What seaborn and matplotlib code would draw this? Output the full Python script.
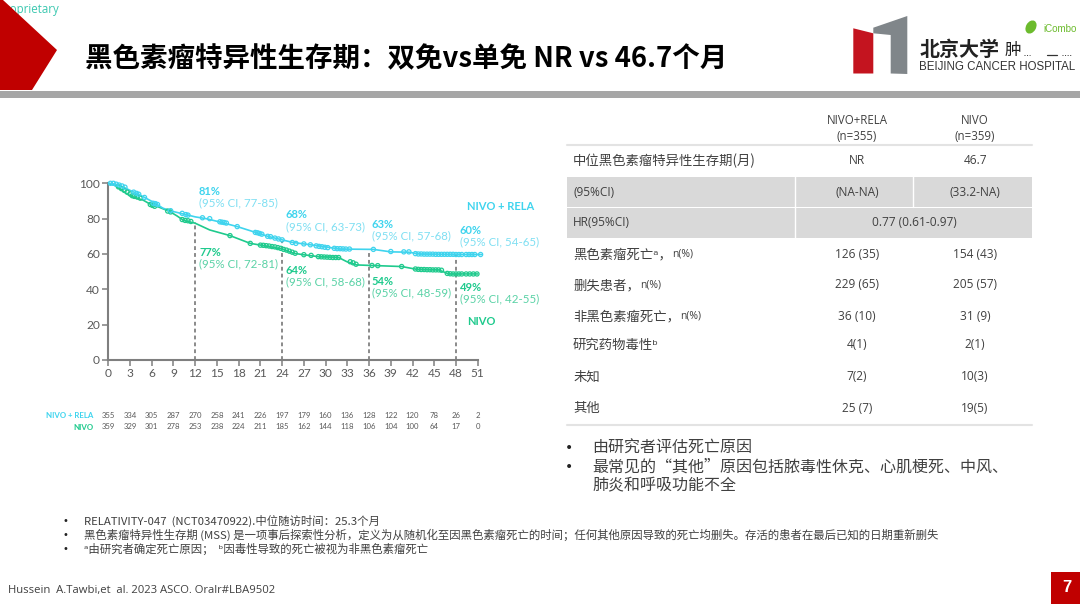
import matplotlib
matplotlib.use("Agg")
import matplotlib.pyplot as plt
import pandas as pd
import seaborn as sns
from matplotlib.patches import Polygon, Rectangle, Ellipse

# curves
rela_t = [0, 1, 2, 3, 3.9, 5, 6.5, 7.5, 8.5, 10, 12, 13.5, 15.5, 17.8, 20.5, 22, 24, 25.5, 27, 29, 32, 34, 36.6, 39, 41.5, 43, 46, 48, 51.5]
rela_s = [100, 99.5, 98, 96, 94.3, 92, 88.7, 86, 84.5, 83, 81, 80, 78, 75.5, 72, 70, 68, 66.5, 65.7, 64.6, 62.8, 62.7, 62.6, 61.2, 61, 60, 59.8, 59.7, 59.7]
nivo_t = [0, 0.8, 1.6, 2.4, 3.2, 4.8, 6, 7, 8.5, 9.5, 10.4, 12, 14, 16.8, 19.6, 21.5, 24, 25.6, 26.9, 29, 31.8, 32.9, 34.3, 37, 40.5, 42.6, 45.6, 47, 51]
nivo_s = [100, 99, 97, 94.5, 92.5, 90.5, 87.7, 86.5, 84, 81.5, 79, 77.4, 73.6, 70.4, 66, 64.7, 62.8, 60.4, 59.6, 58.5, 58, 55.7, 53.8, 53.4, 52.9, 51.3, 51, 48.7, 48.7]

# censor marks
rela_cens_t = [0.3, 0.7, 1.1, 1.5, 1.9, 2.3, 3.5, 3.9, 4.2, 5.0, 6.2, 6.5, 6.8, 8.6, 10.2, 10.7, 11.0, 13.0, 14.0, 15.4, 15.7, 16.0, 16.3, 17.8, 20.3, 20.6, 20.9, 21.2, 22.0, 22.4, 23.0, 23.5, 24.0, 25.4, 25.9, 27.0, 27.9, 28.7, 29.1, 29.5, 29.9, 30.3, 31.2, 31.6, 32.0, 32.4, 32.8, 33.3, 36.6, 39.0, 40.8, 41.5, 42.4, 42.8, 43.2, 43.6, 44.0, 44.4, 44.8, 45.2, 45.6, 46.0, 46.4, 46.8, 47.2, 47.6, 48.0, 48.4, 48.8, 49.4, 49.8, 50.2, 50.6, 51.4]
rela_cens_s = [100, 100, 99.5, 99, 98.5, 97.8, 95, 94.3, 93.8, 92, 88.7, 88.5, 88, 84.5, 83, 82.3, 82, 80.5, 80, 78.2, 78, 77.8, 77.5, 75.5, 72.2, 72, 71.6, 71.2, 70, 69.8, 69, 68.5, 68, 66.5, 66, 65.7, 65.2, 64.6, 64.3, 64.1, 63.8, 63.6, 63.2, 63, 63, 62.9, 62.8, 62.8, 62.6, 61.4, 61.2, 61.2, 60.2, 60, 60, 59.9, 59.9, 59.9, 59.9, 59.8, 59.8, 59.8, 59.8, 59.8, 59.8, 59.8, 59.7, 59.7, 59.7, 59.7, 59.7, 59.7, 59.7, 59.7]
nivo_cens_t = [1.4, 1.8, 2.2, 2.6, 3.0, 3.3, 3.6, 4.0, 4.4, 5.8, 6.1, 6.4, 8.2, 8.6, 10.2, 10.6, 11.0, 11.4, 16.8, 19.6, 21.0, 21.4, 21.8, 22.2, 22.6, 23.0, 23.4, 23.8, 24.2, 24.6, 25.0, 25.4, 25.8, 27.0, 28.0, 29.0, 29.4, 29.8, 30.2, 30.6, 31.0, 31.4, 31.8, 33.4, 33.8, 34.2, 36.4, 37.2, 40.5, 42.4, 42.8, 43.2, 43.6, 44.0, 44.4, 44.8, 45.2, 45.6, 46.0, 46.8, 47.2, 47.6, 48.0, 48.4, 48.8, 49.4, 49.9, 50.4, 50.9]
nivo_cens_s = [98, 97, 96, 95, 94, 93, 92.6, 92.2, 91.6, 88, 87.5, 87, 84.3, 83.8, 79.5, 79, 78.8, 78.4, 70.4, 66, 65, 64.9, 64.7, 64.5, 64.2, 64, 63.6, 63.2, 62.6, 62.2, 61.6, 61, 60.4, 59.6, 59.2, 58.5, 58.4, 58.3, 58.2, 58.1, 58, 58, 58, 55.6, 55, 54.2, 53.5, 53.4, 52.9, 51.5, 51.3, 51.2, 51.2, 51.1, 51.1, 51, 51, 51, 50.8, 49, 48.8, 48.7, 48.7, 48.7, 48.7, 48.7, 48.7, 48.7, 48.7]

milestones = [12, 24, 36, 48]
milestone_top = [78, 67.5, 62.6, 59.8]
x_ticks = list(range(0, 52, 3))
y_ticks = [0, 20, 40, 60, 80, 100]
risk_rela = [355, 334, 305, 287, 270, 258, 241, 226, 197, 179, 160, 136, 128, 122, 120, 78, 26, 2]
risk_nivo = [359, 329, 301, 278, 253, 238, 224, 211, 185, 162, 144, 118, 106, 104, 100, 64, 17, 0]

# (pct, ci, x px, y px of pct line)
rela_notes = [("81%", "(95% CI, 77-85)", 199, 191.5), ("68%", "(95% CI, 63-73)", 285.5, 215), ("63%", "(95% CI, 57-68)", 371.5, 224.5), ("60%", "(95% CI, 54-65)", 460, 230)]
nivo_notes = [("77%", "(95% CI, 72-81)", 199, 252.5), ("64%", "(95% CI, 58-68)", 285.5, 270), ("54%", "(95% CI, 48-59)", 371.5, 281.5), ("49%", "(95% CI, 42-55)", 460, 287.5)]

# table
table_head = ["NIVO+RELA\n(n=355)", "NIVO\n(n=359)"]
row_labels = ["中位黑色素瘤特异性生存期(月)", "(95%CI)", "HR(95%CI)", "黑色素瘤死亡ᵃ，", "删失患者，", "非黑色素瘤死亡，", "研究药物毒性ᵇ", "未知", "其他"]
row_notes = ["", "", "", "n(%)", "n(%)", "n(%)", "", "", ""]
col_rela = ["NR", "(NA-NA)", "0.77 (0.61-0.97)", "126 (35)", "229 (65)", "36 (10)", "4(1)", "7(2)", "25 (7)"]
col_nivo = ["46.7", "(33.2-NA)", "", "154 (43)", "205 (57)", "31 (9)", "2(1)", "10(3)", "19(5)"]
row_y = [161, 192, 223, 254, 285, 316, 345, 377, 408]

title = "黑色素瘤特异性生存期：双免vs单免 NR vs 46.7个月"
side_notes = ["由研究者评估死亡原因", "最常见的“其他”原因包括脓毒性休克、心肌梗死、中风、", "肺炎和呼吸功能不全"]
foot_notes = [
    "RELATIVITY-047  (NCT03470922).中位随访时间：25.3个月",
    "黑色素瘤特异性生存期 (MSS) 是一项事后探索性分析，定义为从随机化至因黑色素瘤死亡的时间；任何其他原因导致的死亡均删失。存活的患者在最后已知的日期重新删失",
    "ᵃ由研究者确定死亡原因；  ᵇ因毒性导致的死亡被视为非黑色素瘤死亡",
]
citation = "Hussein  A.Tawbi,et  al. 2023 ASCO. Oralr#LBA9502"

sns.set_style("white")
CJK = ["Noto Sans CJK SC", "DejaVu Sans"]
plt.rcParams["font.family"] = CJK

BLUE = "#3fd4ee"
GREEN = "#1fca8d"
BLUE_T = "#7fdff2"
GREEN_T = "#5ad2a6"
RED = "#c00000"
GREY = "#7f7f7f"
TXT = "#404040"

W, H = 1080, 608
fig = plt.figure(figsize=(10.8, 6.08), dpi=100, facecolor="white")

# slide furniture in pixel coords
bg = fig.add_axes([0, 0, 1, 1])
bg.set_xlim(0, W)
bg.set_ylim(H, 0)
bg.axis("off")

bg.text(60, 9, "Proprietary", color="#3cc8b0", fontsize=8.3, family="Open Sans", ha="right", va="center", zorder=1)
bg.add_patch(Polygon([(0, 0), (3, 0), (57, 50), (32, 90), (0, 90)], fc=RED, ec="none", zorder=2))
bg.add_patch(Rectangle((0, 91), W, 7, fc="#a6a6a6", ec="none"))
bg.text(85, 59, title, fontsize=19.8, fontweight="bold", color="black", ha="left", va="center")

# logo
bg.add_patch(Polygon([(853.3, 28.3), (873.3, 33.3), (873.3, 73.5), (853.3, 73.5)], fc="#c4141f", ec="none"))
bg.add_patch(Polygon([(873.3, 27.7), (907.3, 16), (907.3, 74), (890.7, 73.5), (890.7, 35), (873.3, 33.3)], fc="#80868a", ec="none"))
bg.text(920, 49, "北京大学", fontsize=14.4, fontweight="bold", color="#222222", va="center")
bg.text(1005, 50, "肿", fontsize=12, color="#222222", va="center")
bg.plot([1024, 1030], [55, 55], color="#333333", lw=0.7, ls=":")
bg.plot([1047, 1057], [55, 55], color="#333333", lw=0.9)
bg.plot([1062, 1072], [55, 55], color="#333333", lw=0.7, ls=":")
bg.text(919, 67, "BEIJING CANCER HOSPITAL", fontsize=8.3, family="Liberation Sans", color="#333333", va="center")
bg.add_patch(Ellipse((1031, 27), 10, 14, angle=30, fc="#6cbb2d", ec="none"))
bg.text(1043, 29, "iCombo", fontsize=7, family="Liberation Sans", color="#6cbb2d", va="center")

# table
for y0, y1 in [(176.5, 206.5), (207.5, 238)]:
    bg.add_patch(Rectangle((567, y0), 465, y1 - y0, fc="#d9d9d9", ec="none"))
bg.plot([795, 795], [176, 238], color="white", lw=1)
bg.plot([913, 913], [176, 207], color="white", lw=1)
bg.plot([567, 1032], [145, 145], color="#e3e3e3", lw=1.5)
bg.plot([567, 1032], [425, 425], color="#e3e3e3", lw=1.5)
bg.text(857, 128.5, table_head[0], fontsize=8.3, family="Open Sans", color=TXT, ha="center", va="center", linespacing=1.3)
bg.text(975, 128.5, table_head[1], fontsize=8.3, family="Open Sans", color=TXT, ha="center", va="center", linespacing=1.3)
for y, lab, note, a, b in zip(row_y, row_labels, row_notes, col_rela, col_nivo):
    small = lab.startswith("(") or lab.startswith("HR")
    t = bg.text(573, y, lab, fontsize=8.6 if small else 9.6, color=TXT, va="center",
                family=["Open Sans"] if small else CJK)
    if note:
        bg.annotate(note, xy=(1, 0.5), xycoords=t, va="center", fontsize=7.5, color=TXT, family="Open Sans")
    if b:
        bg.text(857, y, a, fontsize=8.6, family="Open Sans", color=TXT, ha="center", va="center")
        bg.text(975, y, b, fontsize=8.6, family="Open Sans", color=TXT, ha="center", va="center")
    else:
        bg.text(914, y, a, fontsize=8.6, family="Open Sans", color=TXT, ha="center", va="center")

for y, line, dot in zip([448, 467, 486], side_notes, [True, True, False]):
    if dot:
        bg.text(569, y, "•", fontsize=10, family="DejaVu Sans", color="#222222", ha="center", va="center")
    bg.text(592, y, line, fontsize=11.5, color=TXT, va="center")

for y, line in zip([521, 535, 549], foot_notes):
    bg.text(65, y, "•", fontsize=7, family="DejaVu Sans", color="#222222", ha="center", va="center")
    bg.text(84, y, line, fontsize=8.2, color=TXT, va="center")
bg.text(8, 590, citation, fontsize=8.1, family="Open Sans", color=TXT, va="center")
bg.add_patch(Rectangle((1051, 572), 29, 32, fc=RED, ec="none"))
bg.text(1067, 588, "7", fontsize=12, fontweight="bold", family="Liberation Sans", color="white", ha="center", va="center")

# chart text
for pct, ci, x, y in rela_notes:
    bg.text(x, y, pct, fontsize=8, fontweight="bold", family="Lato", color=BLUE, va="center")
    bg.text(x, y + 11.7, ci, fontsize=8.3, family="Lato", color=BLUE_T, va="center")
for pct, ci, x, y in nivo_notes:
    bg.text(x, y, pct, fontsize=8, fontweight="bold", family="Lato", color=GREEN, va="center")
    bg.text(x, y + 11.7, ci, fontsize=8.3, family="Lato", color=GREEN_T, va="center")
bg.text(467, 206.7, "NIVO + RELA", fontsize=8, fontweight="bold", family="Lato", color=BLUE, va="center")
bg.text(467, 321.7, "NIVO", fontsize=8, fontweight="bold", family="Lato", color=GREEN, va="center")

# KM chart
x0, x1, y0, y1 = 108.3, 477.7, 183.3, 360
ax = fig.add_axes([x0 / W, 1 - y1 / H, (x1 - x0) / W, (y1 - y0) / H])
ax.patch.set_alpha(0)

curves = pd.concat([
    pd.DataFrame({"month": nivo_t, "surv": nivo_s, "arm": "NIVO"}),
    pd.DataFrame({"month": rela_t, "surv": rela_s, "arm": "NIVO + RELA"}),
])
cens = pd.concat([
    pd.DataFrame({"month": nivo_cens_t, "surv": nivo_cens_s, "arm": "NIVO"}),
    pd.DataFrame({"month": rela_cens_t, "surv": rela_cens_s, "arm": "NIVO + RELA"}),
])
palette = {"NIVO": GREEN, "NIVO + RELA": BLUE}

ax.vlines(milestones, 0, milestone_top, color="#6b6b6b", lw=1.1, linestyles=(0, (2.5, 2)), zorder=1)
sns.lineplot(data=curves, x="month", y="surv", hue="arm", palette=palette, estimator=None,
             sort=False, lw=1.2, legend=False, ax=ax, zorder=2, clip_on=False)
for arm, c in palette.items():
    sub = cens[cens["arm"] == arm]
    sns.scatterplot(data=sub, x="month", y="surv", s=9, facecolor="none", edgecolor=c,
                    linewidth=0.9, legend=False, ax=ax, zorder=3, clip_on=False)

ax.set_xlim(0, 51)
ax.set_ylim(0, 100)
ax.set_xlabel("")
ax.set_ylabel("")
ax.set_xticks(x_ticks)
ax.set_yticks(y_ticks)
ax.tick_params(axis="both", direction="out", length=4, width=1.1, color=GREY, labelcolor="#595959",
               labelsize=8.6, left=True, bottom=True, pad=2)
for lab in ax.get_xticklabels() + ax.get_yticklabels():
    lab.set_family("Lato")
sns.despine(ax=ax)
for side in ["left", "bottom"]:
    ax.spines[side].set_color(GREY)
    ax.spines[side].set_linewidth(1.5)

# numbers at risk
trans = ax.get_xaxis_transform()
for t, a, b in zip(x_ticks, risk_rela, risk_nivo):
    ax.text(t, (y1 - 415.5) / (y1 - y0), str(a), transform=trans, fontsize=5.6, family="Lato", color="#595959", ha="center", va="center", clip_on=False)
    ax.text(t, (y1 - 427) / (y1 - y0), str(b), transform=trans, fontsize=5.6, family="Lato", color="#595959", ha="center", va="center", clip_on=False)
bg.text(93, 415.5, "NIVO + RELA", fontsize=5.7, fontweight="bold", family="Lato", color=BLUE, ha="right", va="center")
bg.text(93, 427, "NIVO", fontsize=5.7, fontweight="bold", family="Lato", color=GREEN, ha="right", va="center")

fig.savefig("out.png", dpi=100)
